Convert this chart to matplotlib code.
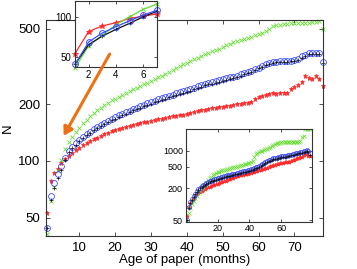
import matplotlib
matplotlib.use("Agg")
import matplotlib.pyplot as plt
from matplotlib.ticker import NullLocator

plt.rcParams['font.family'] = ['Liberation Sans', 'DejaVu Sans']

# months since publication
months = list(range(1, 79))

# main panel: N vs age of paper
n_green = [41, 61, 73, 88, 101, 115, 126, 134, 142, 150, 158, 165, 172, 179, 185, 191, 197, 203, 209, 214,
           219, 224, 229, 234, 239, 244, 249, 254, 259, 266, 271, 277, 283, 290, 296, 303, 310, 318, 325, 332,
           339, 345, 352, 360, 368, 374, 380, 387, 394, 402, 409, 416, 424, 432, 438, 442, 447, 454, 462, 470,
           478, 486, 502, 517, 524, 528, 530, 531, 535, 537, 536, 539, 541, 540, 544, 546, 548, 500]
n_blue = [44, 65, 76, 85, 94, 104, 113, 119, 124, 129, 134, 139, 143, 147, 151, 155, 159, 162, 166, 170,
          174, 177, 181, 184, 188, 191, 195, 198, 202, 205, 208, 212, 215, 218, 221, 224, 228, 231, 234, 237,
          241, 244, 248, 252, 256, 259, 262, 265, 268, 271, 274, 277, 280, 283, 287, 291, 295, 300, 305, 312,
          320, 328, 332, 334, 336, 337, 338, 340, 340, 342, 345, 358, 366, 372, 373, 373, 372, 333]
n_black = [44, 62, 72, 81, 90, 101, 111, 117, 122, 127, 132, 137, 141, 145, 149, 153, 156, 160, 164, 167,
           171, 174, 178, 181, 185, 188, 191, 195, 198, 201, 204, 208, 211, 214, 217, 220, 223, 226, 229, 232,
           236, 239, 243, 247, 251, 254, 257, 260, 263, 266, 269, 272, 275, 278, 281, 290, 293, 297, 302, 309,
           316, 324, 328, 331, 333, 334, 335, 336, 338, 339, 343, 352, 361, 367, 369, 370, 369, 330]
n_red = [53, 78, 86, 91, 98, 102, 106, 110, 114, 117, 121, 124, 127, 130, 133, 135, 138, 141, 144, 146,
         148, 150, 152, 154, 155, 157, 158, 160, 161, 163, 164, 166, 167, 169, 170, 172, 173, 175, 176, 178,
         180, 181, 183, 185, 187, 188, 190, 191, 192, 194, 195, 196, 198, 199, 200, 202, 203, 205, 212, 219,
         221, 224, 226, 228, 227, 229, 228, 230, 240, 245, 252, 262, 281, 276, 272, 281, 270, 249]

# lower inset
ins_green = [48, 68, 85, 100, 115, 130, 145, 160, 176, 192, 210, 230, 252, 280, 305, 325, 345, 362, 378, 394,
             408, 418, 427, 436, 445, 453, 461, 470, 479, 488, 498, 507, 517, 527, 538, 549, 560, 572, 585, 598,
             625, 655, 760, 880, 920, 950, 980, 1010, 1040, 1060, 1085, 1105, 1150, 1210, 1280, 1350, 1380, 1400, 1420, 1440,
             1450, 1460, 1470, 1470, 1475, 1470, 1480, 1475, 1480, 1470, 1475, 1490, 1820, 1850, 2500, 2520, 2520, 2520]
ins_blue = [50, 90, 110, 126, 143, 158, 175, 190, 205, 220, 232, 243, 252, 261, 269, 277, 285, 292, 300, 307,
            314, 321, 327, 333, 339, 345, 351, 357, 363, 369, 375, 382, 389, 396, 403, 410, 417, 424, 431, 438,
            450, 463, 477, 491, 505, 519, 540, 562, 585, 610, 635, 660, 682, 700, 716, 730, 745, 760, 775, 790,
            798, 805, 812, 822, 835, 850, 866, 880, 895, 910, 925, 940, 955, 975, 1000, 1030, 1000, 900]
ins_black = [50, 86, 106, 121, 137, 152, 168, 182, 197, 211, 223, 233, 242, 251, 258, 266, 274, 280, 288, 295,
             301, 308, 314, 320, 325, 331, 337, 343, 348, 354, 360, 367, 373, 380, 387, 394, 400, 407, 414, 420,
             432, 444, 458, 471, 485, 498, 518, 540, 562, 586, 610, 634, 655, 672, 687, 701, 715, 730, 744, 758,
             766, 773, 780, 789, 802, 816, 831, 845, 859, 874, 888, 902, 917, 936, 960, 980, 940, 820]
ins_red = [60, 88, 104, 118, 130, 142, 152, 161, 170, 179, 187, 194, 200, 206, 213, 219, 225, 230, 236, 242,
           248, 255, 262, 270, 277, 284, 291, 299, 307, 315, 323, 331, 338, 345, 351, 357, 363, 369, 374, 380,
           388, 396, 404, 413, 422, 431, 440, 450, 460, 472, 485, 498, 510, 522, 535, 547, 560, 573, 585, 592,
           598, 604, 610, 617, 625, 640, 660, 682, 705, 723, 740, 755, 770, 830, 895, 860, 800, 790]

c_green = '#66dd33'
c_blue = '#3b4cff'
c_red = '#ff2a2a'
c_black = '#111111'
c_box = '#333333'


def style_axes(ax, size):
    for s in ax.spines.values():
        s.set_color(c_box)
        s.set_linewidth(0.8)
    ax.yaxis.set_minor_locator(NullLocator())
    ax.xaxis.set_minor_locator(NullLocator())
    ax.tick_params(direction='in', top=True, right=True, labelsize=size,
                   length=3, width=0.6, colors=c_box, labelcolor='black')


fig = plt.figure(figsize=(3.57, 2.69), dpi=100)

# main axes
ax = fig.add_axes([0.1289, 0.1227, 0.7759, 0.803])
ax.plot(months, n_red, ls='none', marker='*', ms=3.6, mew=0.5, color=c_red, clip_on=False)
ax.plot(months, n_green, ls='none', marker='x', ms=3.0, mew=0.6, color=c_green, clip_on=False)
ax.plot(months, n_blue, ls='none', marker='o', ms=4.2, mew=0.6, mfc='none', color=c_blue, clip_on=False)
ax.plot(months, n_black, ls='none', marker='+', ms=3.3, mew=0.5, color=c_black, clip_on=False)
ax.set_yscale('log')
ax.set_xlim(0.7, 78)
ax.set_ylim(40, 558)
ax.set_yticks([50, 100, 200, 500])
ax.set_yticklabels(['50', '100', '200', '500'])
ax.set_xticks([10, 20, 30, 40, 50, 60, 70])
style_axes(ax, 9.5)
ax.tick_params(pad=4)
ax.set_xlabel('Age of paper (months)', fontsize=9.5)
ax.set_ylabel('N', fontsize=9.5)
ax.xaxis.set_label_coords(0.5, -0.085)
ax.yaxis.set_label_coords(-0.115, 0.5)

# orange arrow pointing at the early months
fig.patches.append(matplotlib.patches.FancyArrowPatch(
    (0.311, 0.808), (0.1745, 0.486), transform=fig.transFigure,
    arrowstyle='-|>,head_length=5,head_width=3', color='#ee7011', lw=2.2))

# upper inset: first 7 months
ax1 = fig.add_axes([0.210, 0.751, 0.2297, 0.247])
k = 7
ax1.plot(months[:k], n_red[:k], '-*', ms=4, mew=0.6, lw=0.9, color=c_red, clip_on=False)
ax1.plot(months[:k], n_green[:k], '-x', ms=3.2, mew=0.6, lw=0.9, color=c_green, clip_on=False)
ax1.plot(months[:k], n_black[:k], '-+', ms=3.5, mew=0.5, lw=0.9, color=c_black, clip_on=False)
ax1.plot(months[:k], n_blue[:k], '-o', ms=4.2, mew=0.7, mfc='none', lw=0.9, color=c_blue, clip_on=False)
ax1.set_yscale('log')
ax1.set_xlim(1, 7)
ax1.set_ylim(42, 134)
ax1.set_yticks([50, 100])
ax1.set_yticklabels(['50', '100'])
ax1.set_xticks([2, 4, 6])
style_axes(ax1, 7)
ax1.tick_params(length=2, pad=2.5)

# lower inset
ax2 = fig.add_axes([0.520, 0.1758, 0.353, 0.3446])
ax2.plot(months, ins_red, ls='none', marker='*', ms=3, mew=0.4, color=c_red)
ax2.plot(months, ins_green, ls='none', marker='x', ms=2.5, mew=0.5, color=c_green)
ax2.plot(months, ins_blue, ls='none', marker='o', ms=3, mew=0.5, mfc='none', color=c_blue)
ax2.plot(months, ins_black, ls='none', marker='+', ms=2.5, mew=0.4, color=c_black)
ax2.set_yscale('log')
ax2.set_xlim(0, 79)
ax2.set_ylim(47, 2550)
ax2.set_yticks([50, 200, 500, 1000])
ax2.set_yticklabels(['50', '200', '500', '1000'])
ax2.set_xticks([20, 40, 60])
style_axes(ax2, 6.5)
ax2.tick_params(length=2, pad=2)

fig.savefig('out.png', dpi=100)
